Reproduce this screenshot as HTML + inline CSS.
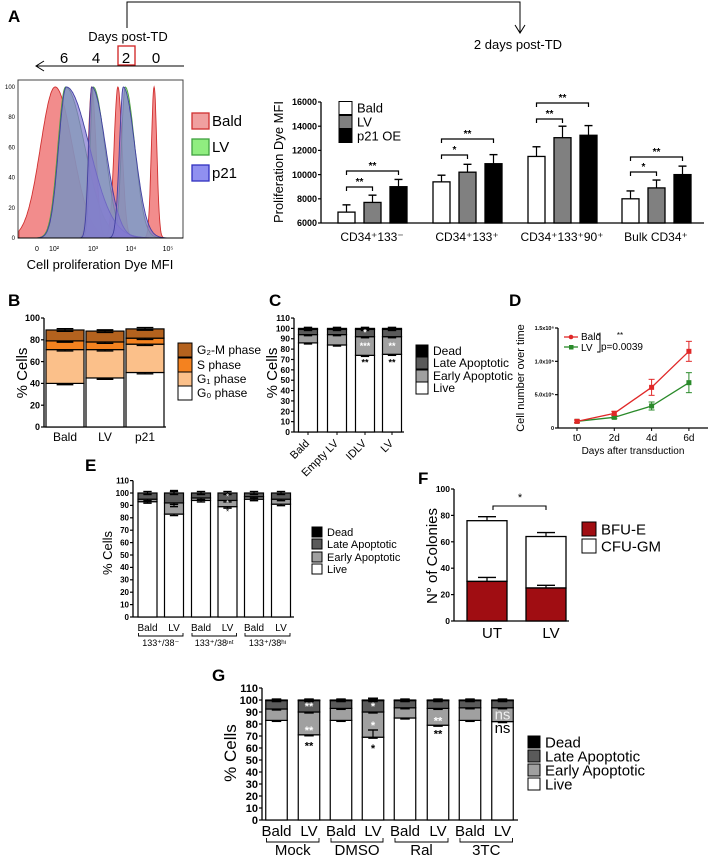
<!DOCTYPE html>
<html><head><meta charset="utf-8"><style>
html,body{margin:0;padding:0;background:#fff;}
svg{display:block;font-family:"Liberation Sans",Arial,sans-serif;}
</style></head><body>
<svg id="fig" width="709" height="855" viewBox="0 0 709 855" xmlns="http://www.w3.org/2000/svg">
<text x="8" y="22" font-size="17" font-weight="bold">A</text>
<polyline points="127,28 127,2 520,2 520,32" fill="none" stroke="#000" stroke-width="1"/>
<polyline points="515,25 520,33 525,25" fill="none" stroke="#000" stroke-width="1"/>
<text x="518" y="49" font-size="13" text-anchor="middle">2 days post-TD</text>
<text x="128" y="41" font-size="13" text-anchor="middle">Days post-TD</text>
<text x="64" y="63" font-size="15" text-anchor="middle">6</text>
<text x="96" y="63" font-size="15" text-anchor="middle">4</text>
<text x="126" y="63" font-size="15" text-anchor="middle">2</text>
<text x="156" y="63" font-size="15" text-anchor="middle">0</text>
<rect x="118" y="46" width="17" height="19" fill="none" stroke="#d02020" stroke-width="1.3"/>
<line x1="36" y1="66" x2="184" y2="66" stroke="#000" stroke-width="1"/>
<polyline points="44,61 36,66 44,71" fill="none" stroke="#000" stroke-width="1"/>
<text x="100" y="269" font-size="13" text-anchor="middle">Cell proliferation Dye MFI</text>
<text x="0" y="0" font-size="13" text-anchor="middle" transform="translate(283 162) rotate(-90)">Proliferation Dye MFI</text>
<text x="8" y="306" font-size="17" font-weight="bold">B</text>
<text x="269" y="306" font-size="17" font-weight="bold">C</text>
<text x="509" y="306" font-size="17" font-weight="bold">D</text>
<text x="85" y="471" font-size="17" font-weight="bold">E</text>
<text x="418" y="484" font-size="17" font-weight="bold">F</text>
<text x="212" y="681" font-size="17" font-weight="bold">G</text>
<text x="0" y="0" font-size="15" text-anchor="middle" transform="translate(27 373) rotate(-90)">% Cells</text>
<text x="0" y="0" font-size="15" text-anchor="middle" transform="translate(277 373) rotate(-90)">% Cells</text>
<text x="0" y="0" font-size="11" text-anchor="middle" transform="translate(524 378) rotate(-90)">Cell number over time</text>
<text x="633" y="454" font-size="10" text-anchor="middle">Days after transduction</text>
<text x="0" y="0" font-size="13" text-anchor="middle" transform="translate(112 553) rotate(-90)">% Cells</text>
<text x="0" y="0" font-size="15" text-anchor="middle" transform="translate(437 556) rotate(-90)">N° of Colonies</text>
<text x="0" y="0" font-size="17" text-anchor="middle" transform="translate(236 753) rotate(-90)">% Cells</text>
</svg>
<script>
// ---------- DATA ----------
const redPeaks=[2.03,2.98,3.66,4.6], redLw=[0.38,0.09,0.1,0.07], redRw=[0.45,0.11,0.11,0.07];
const greenPeaks=[2.3,3.02,3.85], greenLw=[0.2,0.08,0.1], greenRw=[0.5,0.3,0.25];
const purplePeaks=[2.32,2.98,3.8], purpleLw=[0.2,0.08,0.1], purpleRw=[0.6,0.36,0.3];
const histYTicks=[0,20,40,60,80,100];
const aGroups=['CD34⁺133⁻','CD34⁺133⁺','CD34⁺133⁺90⁺','Bulk CD34⁺'];
const aSeries=['Bald','LV','p21 OE'];
const aBald=[6900,9400,11500,8000], aBaldErr=[600,550,800,650];
const aLV=[7700,10200,13050,8900], aLVErr=[600,650,950,650];
const aP21=[9000,10900,13250,10000], aP21Err=[600,750,800,700];
const aTicks=[6000,8000,10000,12000,14000,16000];
const bCats=['Bald','LV','p21'];
const bG0=[40,45,50], bG1=[71,71,76], bS=[79,78,81.5], bG2M=[89,88,90];
const bTicks=[0,20,40,60,80,100];
const cCats=['Bald','Empty LV','IDLV','LV'];
const cLive=[86,84,74,75], cEarly=[94,94,92,92], cLate=[99,99,99,99], cDead=[100,100,100,100];
const cTicks=[0,10,20,30,40,50,60,70,80,90,100,110];
const dDays=['t0','2d','4d','6d'];
const dBald=[100000,220000,610000,1150000], dBaldErr=[20000,30000,120000,150000];
const dLV=[100000,160000,330000,680000], dLVErr=[20000,20000,60000,150000];
const dTicks=[0,500000,1000000,1500000], dTickLabels=['0','5.0x10⁵','1.0x10⁶','1.5x10⁶'];
const eCats=['Bald','LV','Bald','LV','Bald','LV'];
const eGroups=['133⁺/38⁻','133⁺/38ᶦⁿᵗ','133⁺/38ʰᶦ'];
const eLive=[93,83,94,89,95,91], eEarly=[95,92,96,94,97,95], eLate=[100,100,100,100,100,100];
const eTicks=[0,10,20,30,40,50,60,70,80,90,100,110];
const fCats=['UT','LV'];
const fBFU=[30,25], fBFUErr=[3,2], fTotal=[76,64], fTotalErr=[3,3];
const fTicks=[0,20,40,60,80,100];
const gCats=['Bald','LV','Bald','LV','Bald','LV','Bald','LV'];
const gGroups=['Mock','DMSO','Ral','3TC'];
const gLive=[83,71,83,69,85,79,83,82], gEarly=[92.5,90,93,90,93.5,93,93.5,93.5], gLate=[99.5,99.5,99.5,99.5,99.5,99.5,99.5,99.5];
const gDead=[100,100,100,100,100,100,100,100];
const gTicks=[0,10,20,30,40,50,60,70,80,90,100,110];

// ---------- HELPERS ----------
const NS='http://www.w3.org/2000/svg';
const svg=document.getElementById('fig');
function mk(tag,parent){const e=document.createElementNS(NS,tag);(parent||svg).appendChild(e);return e;}
function at(e,o){for(const k in o)e.setAttribute(k,o[k]);return e;}
function txt(parent,x,y,s,size,anchor,extra){const t=mk('text',parent);at(t,{x:x,y:y,'font-size':size,'text-anchor':anchor||'middle'});if(extra)at(t,extra);t.textContent=s;return t;}
function line(parent,x1,y1,x2,y2,w,c){const l=mk('line',parent);at(l,{x1:x1,y1:y1,x2:x2,y2:y2,stroke:c||'#000','stroke-width':w||1});return l;}
function yAxis(parent,x,yf,ticks,labels,size,bold){
  const ax=line(parent,x,yf(ticks[0]),x,yf(ticks[ticks.length-1]),1.3);
  
  
  ticks.forEach((v,i)=>{
    const tk=line(parent,x-3,yf(v),x,yf(v),1.2);
    
    
    const t=txt(parent,x-4,yf(v)+size*0.35,labels?labels[i]:String(v),size,'end',bold?{'font-weight':'bold'}:null);
    
    
  });
}
function errBar(parent,x,y1,y2,cap){const g=mk('g',parent);line(g,x,y1,x,y2,1.2);line(g,x-cap,y2,x+cap,y2,1.4);return g;}
function legendRow(parent,x,y,sz,fill,label,fs){
  const r=mk('rect',parent);at(r,{x:x,y:y-sz/2,width:sz,height:sz,fill:fill,stroke:'#000','stroke-width':1});
  
  
  const t=txt(parent,x+sz+5,y+fs*0.35,label,fs,'start');
  
  
  return t;
}
function stacked(parent,centers,w,layers,colors,yf,base,errsz){
  centers.forEach((cx,i)=>{
    let prev=base;
    layers.forEach((L,k)=>{
      const top=L[i];
      const r=mk('rect',parent);
      at(r,{x:cx-w/2,y:yf(top),width:w,height:Math.max(0,yf(prev)-yf(top)),fill:colors[k],stroke:'#000','stroke-width':1.2});
      
      
      errBar(parent,cx,yf(top),yf(top+errsz),w*0.22);
      errBar(parent,cx,yf(top),yf(top-errsz),w*0.22);
      prev=top;
    });
  });
}

// ---------- PANEL A: HISTOGRAM ----------
(function(){
  const g=mk('g');
  const hx=L=>54+(L-2)*38.5, hy=v=>238-v*1.51;
  const box=mk('rect',g);at(box,{x:18,y:80,width:165,height:158,fill:'none',stroke:'#444','stroke-width':1});
  
  function drawSet(peaks,lw,rw,fill,stroke,name){
    peaks.forEach((p,i)=>{
      let pts=[];
      for(let L=p-4*lw[i];L<=p+4*rw[i];L+=0.01){
        const d=L-p,w=d<0?lw[i]:rw[i];
        const v=100*Math.exp(-d*d/(2*w*w));
        const x=Math.max(19,Math.min(182,hx(L)));
        pts.push(x.toFixed(1)+','+hy(v).toFixed(1));
      }
      const pg=mk('polygon',g);
      at(pg,{points:Math.max(19,hx(p-4*lw[i]))+',238 '+pts.join(' ')+' '+Math.min(182,hx(p+4*rw[i]))+',238',fill:fill,stroke:stroke,'stroke-width':0.9});
      
      
    });
  }
  drawSet(redPeaks,redLw,redRw,'rgba(240,120,120,0.85)','#d03030','histogram-bald');
  drawSet(greenPeaks,greenLw,greenRw,'rgba(140,225,120,0.75)','#50a040','histogram-lv');
  drawSet(purplePeaks,purpleLw,purpleRw,'rgba(130,120,210,0.7)','#4040a0','histogram-p21');
  histYTicks.forEach(v=>{
    const t=txt(g,15,hy(v)+2,String(v),6,'end');
    
  });
  line(g,18,238,183,238,1);
  [[37,'0'],[54,'10²'],[93,'10³'],[131,'10⁴'],[168,'10⁵']].forEach(a=>{
    const t=txt(g,a[0],251,a[1],7);
  });
  const lg=mk('g');
  [['#f0a0a0','#d03030','Bald',121],['#90ee80','#40a040','LV',147],['#9090f0','#3030c0','p21',173]].forEach(a=>{
    const r=mk('rect',lg);at(r,{x:192,y:a[3]-8,width:17,height:16,fill:a[0],stroke:a[1],'stroke-width':1.3});
    
    const t=txt(lg,212,a[3]+5,a[2],15,'start');
  });
})();

// ---------- PANEL A: BAR CHART ----------
(function(){
  const g=mk('g');
  const yf=v=>223-(v-6000)*0.0121;
  yAxis(g,321,yf,aTicks,null,9,true);
  const xa=line(g,321,223,704,223,1.3);
  const starts=[338,433,528,622];
  const series=[[aBald,aBaldErr,'#fff'],[aLV,aLVErr,'#808080'],[aP21,aP21Err,'#000']];
  aGroups.forEach((gn,gi)=>{
    series.forEach((s,si)=>{
      const x=starts[gi]+si*26;
      errBar(g,x+8.5,yf(s[0][gi]),yf(s[0][gi]+s[1][gi]),4);
      const r=mk('rect',g);at(r,{x:x,y:yf(s[0][gi]),width:17,height:223-yf(s[0][gi]),fill:s[2],stroke:'#000','stroke-width':1.3});
      
      
    });
    const t=txt(g,starts[gi]+34,241,gn,12);
  });
  const sig=[[0,1,187,'**'],[0,2,171,'**'],[1,1,155,'*'],[1,2,139,'**'],[2,1,119,'**'],[2,2,103,'**'],[3,1,172,'*'],[3,2,157,'**']];
  sig.forEach(s=>{
    const x1=starts[s[0]]+8.5,x2=starts[s[0]]+s[1]*26+8.5;
    const p=mk('polyline',g);at(p,{points:`${x1},${s[2]+4} ${x1},${s[2]} ${x2},${s[2]} ${x2},${s[2]+4}`,fill:'none',stroke:'#000','stroke-width':1.2});
    
    const t=txt(g,(x1+x2)/2,s[2]-2,s[3],10,'middle',{'font-weight':'bold'});
  });
  legendRow(g,339,108,13,'#fff','Bald',13);
  legendRow(g,339,122,13,'#808080','LV',13);
  legendRow(g,339,136,13,'#000','p21 OE',13);
})();

// ---------- PANEL B ----------
(function(){
  const g=mk('g');
  const yf=v=>427-v*1.09;
  yAxis(g,44,yf,bTicks,null,9,true);
  line(g,44,427,166,427,1.3);
  const centers=[65,105,145];
  stacked(g,centers,38,[bG0,bG1,bS,bG2M],['#fff','#fbc08a','#f4821f','#b4621e'],yf,0,1.2);
  bCats.forEach((c,i)=>{const t=txt(g,centers[i],441,c,12);});
  legendRow(g,178,350,14,'#b4621e','G₂-M phase',12);
  legendRow(g,178,365,14,'#f4821f','S phase',12);
  legendRow(g,178,379,14,'#fbc08a','G₁ phase',12);
  legendRow(g,178,393,14,'#fff','G₀ phase',12);
})();

// ---------- PANEL C ----------
(function(){
  const g=mk('g');
  const yf=v=>432-v*1.036;
  yAxis(g,294,yf,cTicks,null,8.5,true);
  line(g,294,432,404,432,1.3);
  const centers=[308,337,365,392];
  stacked(g,centers,19,[cLive,cEarly,cLate,cDead],['#fff','#a0a0a0','#5a5a5a','#000'],yf,0,1);
  cCats.forEach((c,i)=>{
    line(g,centers[i],432,centers[i],435,1);
    const t=txt(g,centers[i]+2,444,c,11,'end',{transform:`rotate(-45 ${centers[i]+2} 444)`});
    
  });
  [[2,96,'*','#fff'],[2,83,'***','#fff'],[2,67,'**','#000'],[3,83,'**','#fff'],[3,67,'**','#000']].forEach(a=>{
    const t=txt(g,centers[a[0]],yf(a[1])+3,a[2],9,'middle',{fill:a[3],'font-weight':'bold'});
    
  });
  legendRow(g,416,351,12,'#000','Dead',12);
  legendRow(g,416,363,12,'#5a5a5a','Late Apoptotic',12);
  legendRow(g,416,376,12,'#a0a0a0','Early Apoptotic',12);
  legendRow(g,416,388,12,'#fff','Live',12);
})();

// ---------- PANEL D ----------
(function(){
  const g=mk('g');
  const yf=v=>428-v/1500000*100, xf=i=>577+i*37.3;
  yAxis(g,558,yf,dTicks,dTickLabels,5.5,true);
  line(g,558,428,708,428,1.3);
  dDays.forEach((d,i)=>{line(g,xf(i),428,xf(i),431,1);const t=txt(g,xf(i),441,d,10);});
  function series(vals,errs,col,name){
    const pl=mk('polyline',g);at(pl,{points:vals.map((v,i)=>xf(i)+','+yf(v)).join(' '),fill:'none',stroke:col,'stroke-width':1.3});
    
    vals.forEach((v,i)=>{
      const e1=mk('g',g);
      line(e1,xf(i),yf(v-errs[i]),xf(i),yf(v+errs[i]),1,col);
      line(e1,xf(i)-3,yf(v-errs[i]),xf(i)+3,yf(v-errs[i]),1,col);
      line(e1,xf(i)-3,yf(v+errs[i]),xf(i)+3,yf(v+errs[i]),1,col);
      
      const m=mk('rect',g);at(m,{x:xf(i)-2.5,y:yf(v)-2.5,width:5,height:5,fill:col});
      
    });
  }
  series(dLV,dLVErr,'#2a8a2a','lv');
  series(dBald,dBaldErr,'#e02828','bald');
  line(g,564,337,578,337,1.3,'#e02828');
  const m1=mk('circle',g);at(m1,{cx:571,cy:337,r:2.3,fill:'#e02828'});
  line(g,564,347,578,347,1.3,'#2a8a2a');
  const m2=mk('rect',g);at(m2,{x:569,y:345,width:4.5,height:4.5,fill:'#2a8a2a'});
  let t=txt(g,581,340,'Bald',10,'start');
  t=txt(g,581,351,'LV',10,'start');
  const br=mk('polyline',g);at(br,{points:'597,334 600,334 600,352 597,352',fill:'none',stroke:'#000','stroke-width':0.9});
  
  t=txt(g,620,338,'**',8);
  t=txt(g,601,350,'p=0.0039',10,'start');
})();

// ---------- PANEL E ----------
(function(){
  const g=mk('g');
  const yf=v=>617-v*1.24;
  yAxis(g,133,yf,eTicks,null,8,true);
  line(g,133,617,294,617,1.3);
  const centers=[147.5,174,201,227.5,254,281];
  stacked(g,centers,19,[eLive,eEarly,eLate],['#fff','#a0a0a0','#5a5a5a'],yf,0,1.2);
  errBar(g,174,yf(100),yf(102),4);errBar(g,174,yf(92),yf(89),4);
  eCats.forEach((c,i)=>{const t=txt(g,centers[i],631,c,10);});
  eGroups.forEach((gn,i)=>{
    const x1=centers[i*2]-9,x2=centers[i*2+1]+9;
    const p=mk('polyline',g);at(p,{points:`${x1},633 ${x1},636 ${x2},636 ${x2},633`,fill:'none',stroke:'#000','stroke-width':0.9});
    
    const t=txt(g,(x1+x2)/2,646,gn,9);
  });
  [[97,'*','#fff'],[92,'*','#fff'],[85,'*','#000']].forEach(a=>{
    const t=txt(g,227.5,yf(a[0])+3,a[1],8,'middle',{fill:a[2]});
  });
  legendRow(g,312,532,10,'#000','Dead',11);
  legendRow(g,312,544,10,'#5a5a5a','Late Apoptotic',11);
  legendRow(g,312,557,10,'#a0a0a0','Early Apoptotic',11);
  legendRow(g,312,569,10,'#fff','Live',11);
})();

// ---------- PANEL F ----------
(function(){
  const g=mk('g');
  const yf=v=>621-v*1.32;
  yAxis(g,454,yf,fTicks,null,8.5,true);
  line(g,454,621,569,621,1.3);
  const centers=[487,546];
  centers.forEach((cx,i)=>{
    errBar(g,cx,yf(fTotal[i]),yf(fTotal[i]+fTotalErr[i]),9);
    const r1=mk('rect',g);at(r1,{x:cx-20,y:yf(fTotal[i]),width:40,height:yf(fBFU[i])-yf(fTotal[i]),fill:'#fff',stroke:'#000','stroke-width':1.3});
    
    errBar(g,cx,yf(fBFU[i]),yf(fBFU[i]+fBFUErr[i]),9);
    const r2=mk('rect',g);at(r2,{x:cx-20,y:yf(fBFU[i]),width:40,height:621-yf(fBFU[i]),fill:'#a00d12',stroke:'#000','stroke-width':1.3});
    
    const t=txt(g,cx+5,638,fCats[i],15);
  });
  const p=mk('polyline',g);at(p,{points:'493,510 493,506 546,506 546,510',fill:'none',stroke:'#000','stroke-width':1.1});
  
  const t=txt(g,520,501,'*',11);
  legendRow(g,582,529,14,'#a00d12','BFU-E',15);
  legendRow(g,582,546,14,'#fff','CFU-GM',15);
})();

// ---------- PANEL G ----------
(function(){
  const g=mk('g');
  const yf=v=>820-v*1.2;
  yAxis(g,262,yf,gTicks,null,11,true);
  line(g,262,820,518,820,1.3);
  const centers=[276.5,309,341,373,405,438,470,502.5];
  stacked(g,centers,21.5,[gLive,gEarly,gLate,gDead],['#fff','#a0a0a0','#5a5a5a','#000'],yf,0,0.8);
  errBar(g,373,yf(gLive[3]),yf(gLive[3]+6),5);
  errBar(g,373,yf(100),yf(101.5),5);
  gCats.forEach((c,i)=>{const t=txt(g,centers[i],836,c,15);});
  gGroups.forEach((gn,i)=>{
    const x1=centers[i*2]-10,x2=centers[i*2+1]+10;
    const p=mk('polyline',g);at(p,{points:`${x1},838 ${x1},842 ${x2},842 ${x2},838`,fill:'none',stroke:'#000','stroke-width':0.9});
    
    const t=txt(g,(x1+x2)/2,855,gn,15);
  });
  [[1,95,'**','#fff'],[1,75,'**','#fff'],[1,62,'**','#000'],[3,95,'*','#fff'],[3,79,'*','#fff'],[3,60,'*','#000'],[5,83,'**','#fff'],[5,72,'**','#000'],[7,87,'ns','#eee'],[7,76,'ns','#000']].forEach(a=>{
    const t=txt(g,centers[a[0]],yf(a[1])+4,a[2],a[2]==='ns'?15:11,'middle',{fill:a[3],'font-weight':a[2]==='ns'?'normal':'bold'});
    
  });
  legendRow(g,528,742,12,'#000','Dead',15);
  legendRow(g,528,756,12,'#5a5a5a','Late Apoptotic',15);
  legendRow(g,528,770,12,'#a0a0a0','Early Apoptotic',15);
  legendRow(g,528,784,12,'#fff','Live',15);
})();
</script>
</body></html>
